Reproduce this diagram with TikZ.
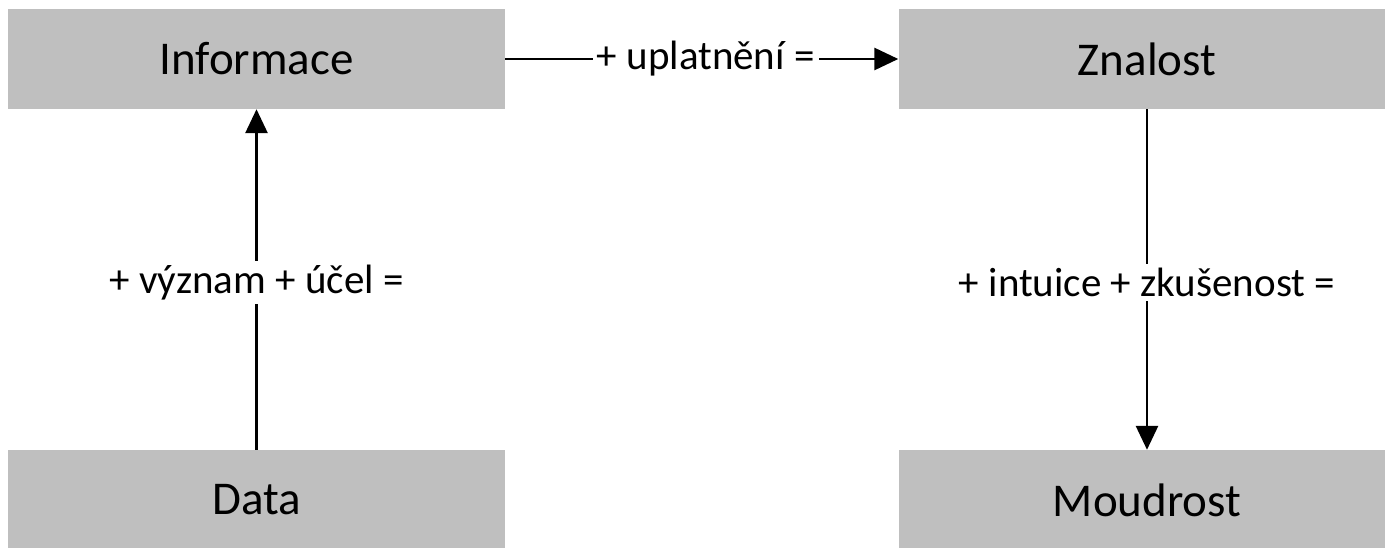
\documentclass[tikz,border=0pt]{standalone}
\usepackage{fontspec}
\setmainfont{Carlito}
\usetikzlibrary{arrows.meta}
\definecolor{boxgray}{HTML}{BFBFBF}
\begin{document}
\begin{tikzpicture}[x=1pt, y=-1pt, >={Triangle[length=24pt,width=22pt]}]
			\useasboundingbox (0,0) rectangle (1385,548);
			\begin{scope}[every node/.style={fill=boxgray, inner sep=0pt, minimum width=497pt, minimum height=100pt, font=\fontsize{47}{56}\selectfont}]
				\node (inf) at (256.5,59) {Informace};
				\node (zna) at (1147,59) {Znalost};
				\node (dat) at (256.5,500) {Data};
				\node (mou) at (1147,500) {Moudrost};
			\end{scope}

			\begin{scope}[line width=2.8pt, every node/.style={midway, fill=white, font=\fontsize{41}{49}\selectfont, inner sep=4pt}]
				\draw[->] (dat) -- (inf) node[yshift=-3pt] {+ význam + účel =};
				\draw[->] (inf) -- (zna) node[xshift=4pt] {+ uplatnění =};
				\draw[->] (zna) -- (mou) node[yshift=-3pt] {+ intuice + zkušenost =};
			\end{scope}
		\end{tikzpicture}
\end{document}
